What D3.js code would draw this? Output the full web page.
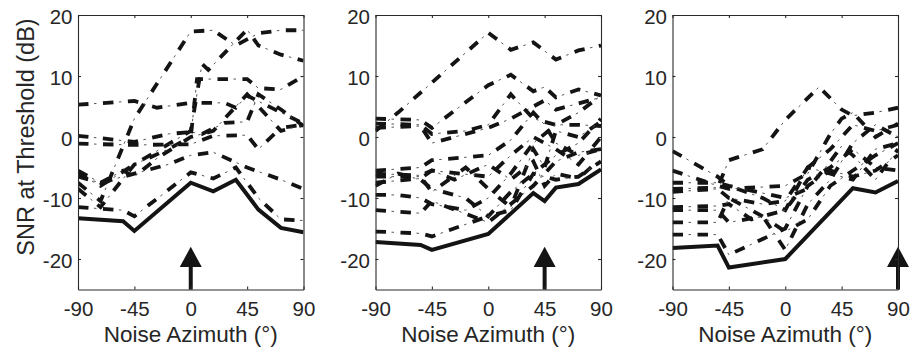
<!DOCTYPE html>
<html>
<head>
<meta charset="utf-8">
<script src="https://cdn.jsdelivr.net/npm/d3@7"></script>
<style>
  body { margin: 0; background: #fff; }
  text { font-family: "Liberation Sans", Arial, sans-serif; fill: #262626; }
</style>
</head>
<body>
<div id="graph"></div>
<script>
// tick values
const azTicks = [-90, -45, 0, 45, 90];
const snrTicks = [-20, -10, 0, 10, 20];

// target azimuth for each panel (arrow)
const targets = [0, 45, 90];

// panel 1 (target at 0 deg)
const p1Solid = [[-90,-13.3],[-54,-13.8],[-45,-15.4],[0,-7.5],[18,-8.9],[36,-7],[54,-11.9],[72,-14.9],[90,-15.6]];
const p1Lines = [
  [[-90,5.3],[-45,5.9],[-27,4.8],[0,5.6],[27,5.6],[36,4.8],[45,6.8],[72,4],[90,2.2]],
  [[-90,-7.5],[-72,-10.5],[-45,3],[0,17.3],[18,17.5],[36,15],[54,17],[72,17.5],[90,17.5]],
  [[-90,-6],[-72,-8],[-45,-4.5],[0,1],[9,12],[14,11],[45,17.6],[54,15],[72,13.5],[90,12.5]],
  [[-90,0.2],[-45,-0.8],[-18,0.5],[0,0.8],[9,0.5],[27,2.3],[45,2.5],[54,7],[72,4.5],[90,1.8]],
  [[-90,-1.1],[-45,-1.3],[0,-1.2],[18,0.2],[45,0.3],[54,-2],[72,1.5],[90,2]],
  [[-90,-8.5],[-72,-11.5],[-45,-4.5],[-18,-2],[0,0],[5,9.5],[18,9.5],[45,9.5],[54,8],[72,7.8],[90,10]],
  [[-90,-6.5],[-72,-7.5],[-45,-6],[-18,-4.5],[0,-3],[18,-2.5],[45,-5],[72,-7],[90,-8.5]],
  [[-90,-11.5],[-54,-12],[-45,-13],[0,-5.8],[18,-6.8],[36,-5],[54,-10],[72,-13.5],[90,-13.7]],
  [[-90,-5.5],[-72,-7.5],[-54,-5.5],[-45,-6.5],[-27,-3.5],[0,0],[18,1],[36,5],[45,7],[54,5],[72,1],[90,2]]
];

// panel 2 (target at 45 deg)
const p2Solid = [[-90,-17.2],[-54,-17.7],[-45,-18.5],[0,-15.9],[36,-9.2],[45,-10.5],[54,-8.3],[72,-7.7],[90,-5.3]];
const p2Lines = [
  [[-90,1],[-72,4],[0,17.1],[18,14.3],[36,15.5],[54,12.7],[72,14.2],[90,15]],
  [[-90,3],[-54,2.8],[-45,1.5],[0,8.5],[18,10.2],[36,7.5],[45,8.2],[54,6.5],[72,7.8],[90,6.8]],
  [[-90,1.5],[-54,1.8],[-45,-1],[0,1.5],[18,3],[36,5],[45,6],[54,4.5],[72,5.5],[90,6.5]],
  [[-90,2.2],[-54,2],[-45,0.5],[-18,1],[0,2],[18,7],[36,3],[54,2],[72,2],[90,1.8]],
  [[-90,-5.5],[-54,-5],[-45,-3.8],[0,-3],[18,-0.5],[36,4],[45,2],[54,-1],[72,-3],[90,-2]],
  [[-90,-6],[-54,-6.3],[-45,-5.5],[0,-6.5],[18,-3],[36,0],[45,-1],[54,-2],[72,-4.5],[90,0]],
  [[-90,-6.5],[-54,-6.5],[-45,-9],[-18,-5],[0,-8.5],[18,-11.5],[36,-2],[45,-5],[54,1],[72,0],[90,2.5]],
  [[-90,-7.5],[-54,-6.8],[-45,-5.5],[-27,-7],[0,-4.5],[18,-7],[36,-4],[45,-8],[54,-6],[72,-6.8],[90,-3.5]],
  [[-90,-8],[-72,-6],[-54,-7],[-45,-8.5],[-18,-10],[0,-13],[18,-9],[36,-6],[54,-3],[72,-1],[90,3]],
  [[-90,-12],[-54,-12.5],[-45,-10.5],[0,-14],[18,-11],[36,-8],[54,-4],[72,-2.5],[90,-2]],
  [[-90,-15.5],[-54,-15.8],[-45,-16.3],[0,-13],[18,-12],[36,-6],[54,-7],[72,-6.5],[90,-4]],
  [[-90,-9.5],[-72,-9.5],[-54,-10],[-45,-11],[-18,-12],[0,-10],[18,-6],[36,-1],[54,2],[72,4],[90,6.8]]
];

// panel 3 (target at 90 deg)
const p3Solid = [[-90,-18.2],[-54,-17.8],[-45,-21.4],[0,-20],[54,-8.4],[72,-9.1],[90,-7.2]];
const p3Lines = [
  [[-90,-8.5],[-54,-8.3],[-45,-3.8],[-18,-2],[0,2.8],[27,8.2],[45,4.5],[54,3.5],[72,4],[90,4.8]],
  [[-90,-2.3],[-54,-6.5],[-45,-8],[-18,-10],[0,-12],[18,-5],[36,-2],[54,2],[72,1],[90,2]],
  [[-90,-5.5],[-54,-8],[-45,-8.5],[0,-8],[18,-6],[36,0.5],[45,3],[54,4],[72,0],[90,2.2]],
  [[-90,-7.5],[-54,-7.5],[-45,-8],[0,-10],[18,-8.5],[36,-4],[45,-1.5],[54,-3],[72,-7],[90,-2]],
  [[-90,-9],[-54,-8.5],[-45,-10],[-18,-11],[0,-10.5],[18,-5],[36,-6],[54,-7],[72,-2],[90,-1]],
  [[-90,-11.5],[-54,-11.3],[-45,-11],[-27,-13.5],[0,-12],[18,-7],[36,-5],[54,-2],[72,-5],[90,-5.5]],
  [[-90,-14],[-54,-14],[-45,-10],[-18,-13],[0,-15.5],[18,-13.5],[36,-8],[54,-5.5],[72,-3],[90,-1]],
  [[-90,-16],[-54,-16],[-45,-19.3],[0,-15],[18,-8],[36,-5.5],[54,-6.5],[72,-5.5],[90,-3]],
  [[-90,-12],[-54,-12],[-45,-14],[-18,-13],[0,-18.5],[18,-11],[36,-7],[54,-1],[72,2],[90,0]]
];

const panels = [
  {solid: p1Solid, lines: p1Lines, target: targets[0]},
  {solid: p2Solid, lines: p2Lines, target: targets[1]},
  {solid: p3Solid, lines: p3Lines, target: targets[2]}
];

const width = 912, height = 347;
const panelLeft = [78, 375.5, 672.5];
const plotW = 225.5, plotTop = 15, plotH = 274.5;
const ink = "#141414";
const tickFont = "20.5px";

const svg = d3.select("div#graph").append("svg")
  .attr("width", width).attr("height", height);

const yScale = d3.scaleLinear().domain([-25, 20]).range([plotTop + plotH, plotTop]);

panels.forEach((p, i) => {
  const x0 = panelLeft[i];
  const xScale = d3.scaleLinear().domain([-90, 90]).range([x0, x0 + plotW]);
  const g = svg.append("g");

  g.append("clipPath").attr("id", "clip" + i)
    .append("rect").attr("x", x0).attr("y", plotTop).attr("width", plotW).attr("height", plotH);

  const line = d3.line().x(d => xScale(d[0])).y(d => yScale(d[1]));
  const data = g.append("g").attr("clip-path", "url(#clip" + i + ")");

  // dash-dot lines: thick dash + thin dot
  p.lines.forEach(l => {
    data.append("path").attr("d", line(l))
      .attr("fill", "none").attr("stroke", ink).attr("stroke-width", 3.8)
      .attr("stroke-dasharray", "10.5,14.5");
    data.append("path").attr("d", line(l))
      .attr("fill", "none").attr("stroke", "#555").attr("stroke-width", 1)
      .attr("stroke-dasharray", "2.5,22.5").attr("stroke-dashoffset", 9);
  });

  data.append("path").attr("d", line(p.solid))
    .attr("fill", "none").attr("stroke", ink).attr("stroke-width", 4)
    .attr("stroke-linejoin", "miter");

  // arrow at target azimuth
  const ax = xScale(p.target);
  const tipY = yScale(-18), baseY = yScale(-21.3);
  g.append("line").attr("x1", ax).attr("x2", ax).attr("y1", baseY).attr("y2", yScale(-25))
    .attr("stroke", ink).attr("stroke-width", 4);
  g.append("path").attr("d", `M${ax},${tipY}L${ax - 11},${baseY}L${ax + 11},${baseY}Z`)
    .attr("fill", ink);

  // axes, ticks inward like matlab
  const axColor = "#2a2a2a";
  g.append("g").attr("transform", `translate(0,${plotTop + plotH})`)
    .call(d3.axisBottom(xScale).tickValues(azTicks).tickSize(-3).tickSizeOuter(0)
      .tickPadding(12.4).tickFormat(d => String(d)))
    .call(a => a.selectAll("text").style("font-size", tickFont));
  g.append("g").attr("transform", `translate(0,${plotTop})`)
    .call(d3.axisTop(xScale).tickValues(azTicks).tickSize(-3).tickSizeOuter(0).tickFormat(""));
  g.append("g").attr("transform", `translate(${x0},0)`)
    .call(d3.axisLeft(yScale).tickValues(snrTicks).tickSize(-3).tickSizeOuter(0)
      .tickPadding(5.5).tickFormat(d => String(d)))
    .call(a => a.selectAll("text").style("font-size", tickFont).attr("dy", "0.42em"));
  g.append("g").attr("transform", `translate(${x0 + plotW},0)`)
    .call(d3.axisRight(yScale).tickValues(snrTicks).tickSize(-3).tickSizeOuter(0).tickFormat(""));
  g.selectAll(".domain, .tick line").attr("stroke", axColor).attr("stroke-width", 1.1);
  g.selectAll(".tick text").attr("fill", "#262626").style("font-family", "'Liberation Sans', Arial, sans-serif");

  g.append("text")
    .attr("x", x0 + plotW / 2).attr("y", 341.5)
    .attr("text-anchor", "middle").style("font-size", "22.5px")
    .text("Noise Azimuth (°)");
});

svg.append("text")
  .attr("transform", "translate(33.5,137) rotate(-90)")
  .attr("text-anchor", "middle").style("font-size", "23.5px")
  .text("SNR at Threshold (dB)");
</script>
</body>
</html>
